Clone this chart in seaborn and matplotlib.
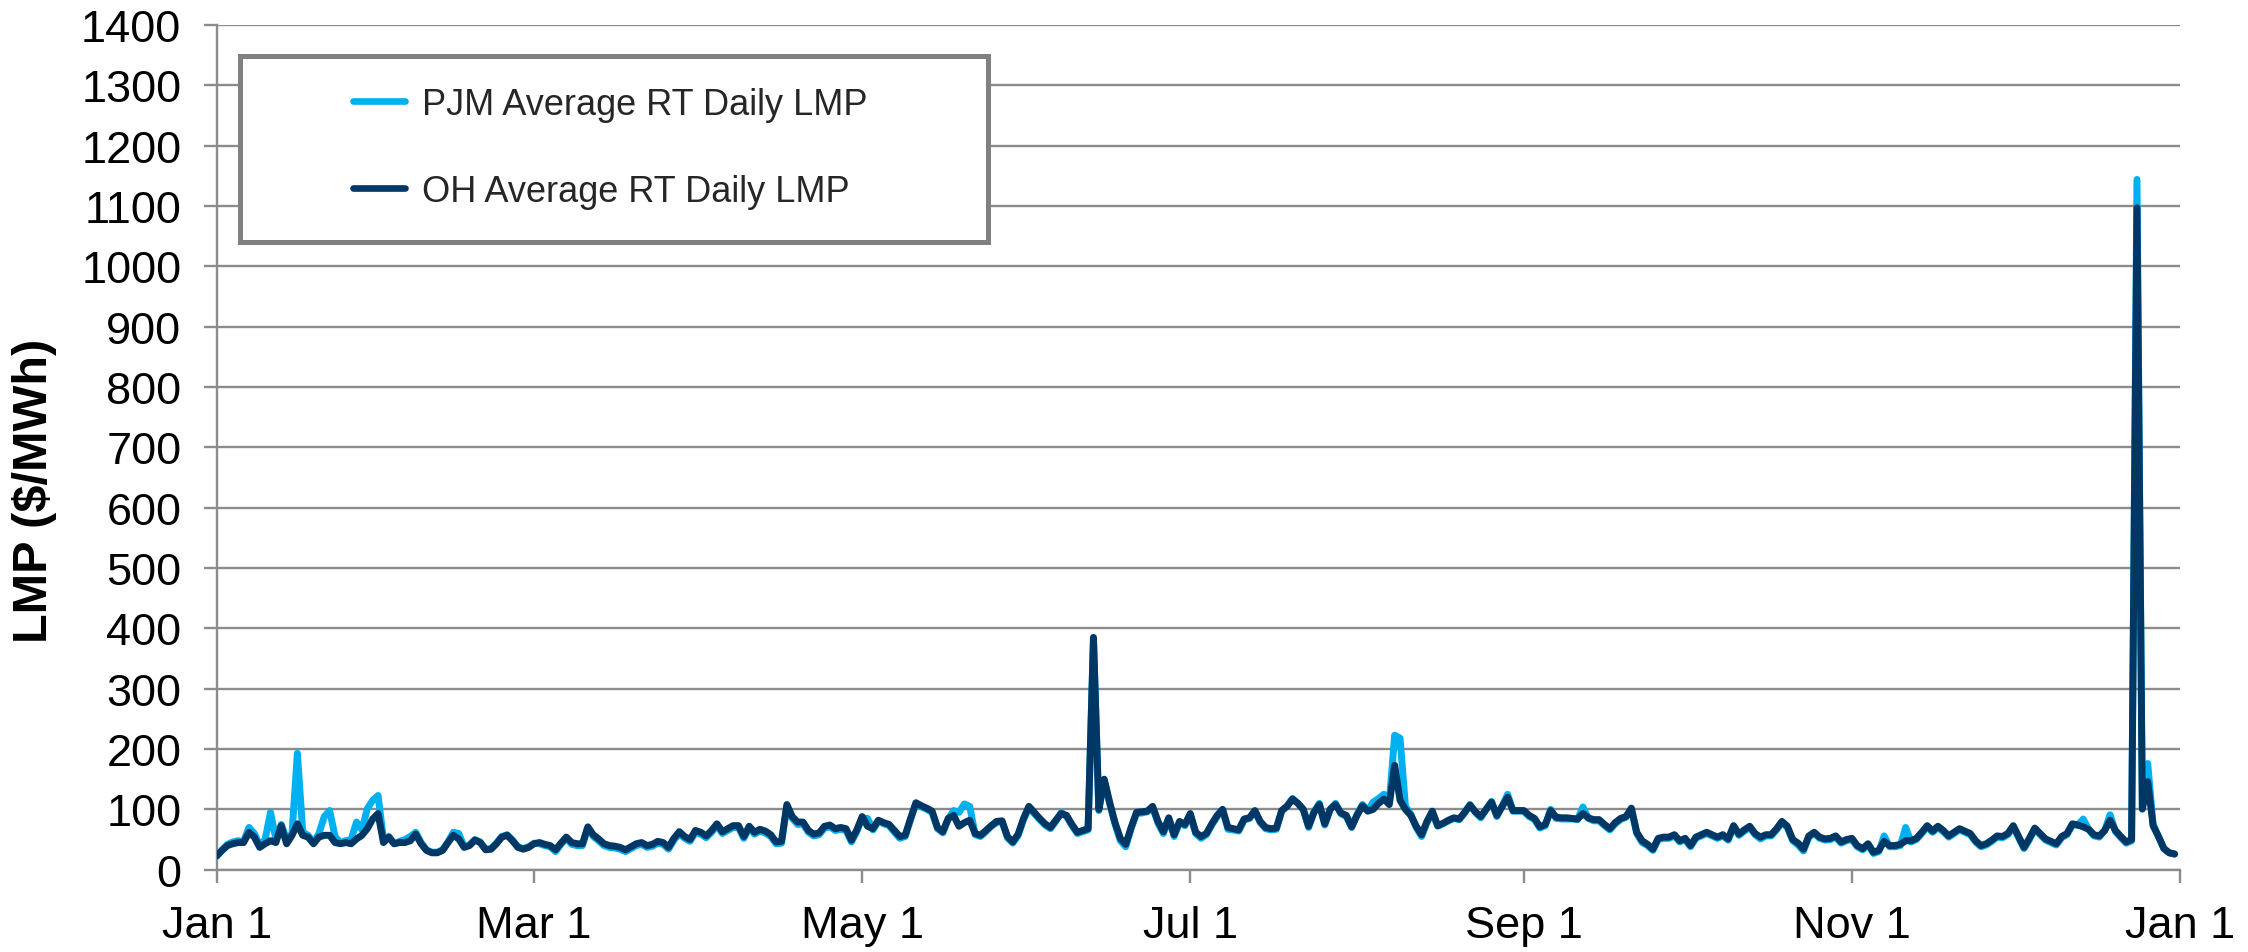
import numpy as np
import pandas as pd
import matplotlib
matplotlib.use("Agg")
import matplotlib.pyplot as plt
from matplotlib.lines import Line2D
from matplotlib.patches import Rectangle
import seaborn as sns

# ---------------- data ----------------
dates = pd.date_range("2022-01-01", "2022-12-31", freq="D")

series_names = ["PJM Average RT Daily LMP", "OH Average RT Daily LMP"]
series_colors = ["#00B0F0", "#003764"]

pjm = [
    22, 33, 42, 46, 48, 47, 70, 60, 40, 50,
    95, 50, 75, 50, 60, 193, 62, 57, 45, 60,
    88, 98, 55, 45, 48, 50, 79, 66, 101, 115,
    123, 50, 55, 43, 47, 50, 55, 62, 45, 33,
    29, 29, 33, 46, 62, 60, 38, 41, 50, 46,
    34, 35, 44, 55, 58, 49, 38, 35, 38, 44,
    43, 40, 38, 30, 42, 52, 42, 40, 40, 70,
    55, 48, 40, 37, 36, 34, 30, 35, 40, 42,
    37, 39, 44, 42, 34, 49, 60, 52, 47, 62,
    59, 53, 62, 73, 60, 65, 70, 70, 52, 69,
    59, 64, 61, 55, 43, 44, 105, 85, 75, 76,
    62, 56, 58, 69, 71, 65, 67, 65, 46, 63,
    85, 85, 66, 80, 76, 73, 62, 52, 55, 83,
    110, 104, 100, 95, 68, 61, 84, 98, 95, 109,
    105, 58, 55, 63, 72, 78, 80, 53, 44, 57,
    83, 103, 93, 83, 74, 68, 80, 95, 88, 73,
    60, 63, 66, 383, 98, 148, 110, 76, 48, 38,
    68, 93, 94, 96, 103, 77, 60, 84, 55, 78,
    73, 91, 60, 52, 58, 74, 88, 99, 67, 66,
    64, 82, 85, 97, 78, 68, 66, 67, 97, 106,
    118, 110, 100, 70, 96, 110, 74, 100, 110, 93,
    88, 70, 92, 108, 98, 112, 118, 125, 112, 223,
    218, 105, 92, 70, 55, 78, 95, 72, 76, 81,
    85, 83, 94, 108, 95, 86, 100, 113, 88, 106,
    125, 97, 97, 97, 88, 83, 69, 73, 100, 85,
    84, 84, 84, 83, 104, 85, 81, 81, 73, 66,
    76, 83, 87, 100, 60, 45, 40, 32, 50, 52,
    52, 56, 46, 50, 38, 52, 56, 60, 56, 52,
    56, 49, 71, 57, 64, 70, 58, 51, 56, 56,
    66, 78, 70, 48, 41, 31, 54, 60, 52, 49,
    50, 54, 44, 48, 50, 38, 33, 41, 27, 30,
    56, 38, 38, 40, 70, 46, 50, 60, 71, 62,
    70, 63, 54, 60, 66, 62, 58, 46, 38, 41,
    47, 54, 53, 58, 71, 53, 35, 50, 67, 58,
    49, 45, 41, 53, 58, 74, 74, 84, 67, 56,
    54, 65, 91, 63, 53, 44, 48, 1144, 100, 176,
    75, 55, 35, 28, 26,
]

oh = [
    23, 32, 40, 43, 45, 45, 62, 54, 37, 43,
    48, 45, 73, 43, 57, 76, 57, 54, 43, 54,
    57, 57, 45, 43, 45, 43, 51, 57, 68, 84,
    93, 45, 54, 43, 45, 45, 48, 59, 43, 32,
    28, 28, 32, 45, 57, 51, 37, 40, 49, 45,
    33, 34, 43, 54, 57, 48, 37, 34, 37, 43,
    45, 42, 40, 33, 44, 54, 45, 43, 43, 71,
    58, 51, 43, 40, 39, 37, 33, 38, 43, 45,
    40, 42, 47, 45, 37, 52, 63, 55, 50, 65,
    62, 56, 65, 76, 63, 68, 73, 73, 55, 72,
    62, 67, 64, 58, 46, 47, 108, 88, 79, 79,
    65, 59, 61, 72, 74, 68, 70, 68, 49, 66,
    88, 72, 68, 82, 78, 75, 65, 55, 57, 85,
    111, 106, 102, 97, 70, 63, 85, 90, 72, 78,
    82, 60, 57, 65, 73, 80, 81, 55, 46, 59,
    85, 105, 95, 85, 76, 70, 82, 93, 90, 75,
    62, 65, 68, 385, 100, 150, 112, 78, 52, 42,
    70, 95, 96, 97, 105, 80, 63, 86, 58, 80,
    75, 93, 62, 55, 60, 76, 90, 100, 70, 68,
    66, 84, 86, 98, 80, 70, 68, 69, 98, 105,
    117, 110, 100, 72, 95, 108, 76, 100, 108, 94,
    90, 71, 90, 106, 97, 100, 110, 117, 108, 173,
    115, 100, 90, 72, 58, 80, 97, 73, 77, 82,
    86, 84, 95, 107, 96, 88, 100, 112, 90, 105,
    120, 98, 98, 98, 90, 85, 71, 75, 98, 87,
    86, 86, 85, 84, 93, 86, 83, 83, 75, 68,
    78, 85, 88, 102, 62, 48, 42, 34, 52, 54,
    54, 58, 48, 52, 40, 54, 58, 62, 58, 54,
    58, 51, 73, 59, 66, 72, 60, 54, 58, 58,
    68, 80, 72, 50, 44, 34, 56, 62, 54, 51,
    52, 56, 46, 50, 52, 40, 35, 43, 29, 32,
    47, 40, 40, 42, 48, 48, 52, 62, 73, 64,
    72, 65, 56, 62, 68, 64, 60, 48, 40, 43,
    49, 56, 55, 60, 73, 55, 37, 52, 69, 60,
    51, 47, 43, 55, 60, 76, 74, 71, 67, 58,
    56, 65, 82, 65, 55, 46, 50, 1097, 101, 146,
    73, 55, 35, 28, 26,
]

y_ticks = list(range(0, 1500, 100))
x_tick_dates = ["2022-01-01", "2022-03-01", "2022-05-01", "2022-07-01",
                "2022-09-01", "2022-11-01", "2023-01-01"]
x_tick_labels = ["Jan 1", "Mar 1", "May 1", "Jul 1", "Sep 1", "Nov 1", "Jan 1"]
y_label = "LMP ($/MWh)"

# ---------------- style ----------------
sns.set_theme(style="white")
plt.rcParams["font.family"] = ["Liberation Sans", "DejaVu Sans"]

GRID = "#8c8c8c"
W, H = 2248, 953
fig = plt.figure(figsize=(W / 100, H / 100), dpi=100)
fig.patch.set_facecolor("white")

ax_l, ax_r, ax_b, ax_t = 216.7, 2180.0, 870.7, 26.0
ax = fig.add_axes([ax_l / W, (H - ax_b) / H, (ax_r - ax_l) / W, (ax_b - ax_t) / H])
ax.set_facecolor("white")

df = pd.DataFrame({
    "date": list(dates) * 2,
    "LMP": pjm + oh,
    "series": [series_names[0]] * len(dates) + [series_names[1]] * len(dates),
})

sns.lineplot(data=df, x="date", y="LMP", hue="series", hue_order=series_names,
             palette=series_colors, linewidth=5.0, ax=ax, legend=False,
             solid_capstyle="round", solid_joinstyle="round", zorder=3)

ax.set_xlim(pd.Timestamp("2022-01-01"), pd.Timestamp("2023-01-01"))
ax.set_ylim(0, 1400)
ax.set_yticks(y_ticks)
ax.set_xticks([pd.Timestamp(d) for d in x_tick_dates])
ax.set_xticklabels(x_tick_labels)

ax.yaxis.grid(True, color=GRID, linewidth=1.7)
ax.xaxis.grid(False)
ax.set_axisbelow(True)

for s in ["top", "right"]:
    ax.spines[s].set_visible(False)
for s in ["left", "bottom"]:
    ax.spines[s].set_color(GRID)
    ax.spines[s].set_linewidth(1.7)

ax.tick_params(axis="both", which="major", direction="out", length=9.5, width=1.7,
               color=GRID, labelcolor="black", pad=16, bottom=True, left=True)
ax.tick_params(axis="x", labelsize=32.5)
ax.tick_params(axis="y", labelsize=32.5)

ax.set_xlabel("")
ax.set_ylabel(y_label, fontsize=35, fontweight="bold", color="black")
ax.yaxis.set_label_coords(-0.093, 0.45)
ax.yaxis.label.set_verticalalignment("center")

# ---------------- legend ----------------
frame = Rectangle((240 / W, (H - 243) / H), 748 / W, 186 / H,
                  transform=fig.transFigure, facecolor="white",
                  edgecolor="#808080", linewidth=3.6, zorder=4, clip_on=False)
ax.add_patch(frame)

handles = [Line2D([0], [0], color=c, linewidth=4.8, solid_capstyle="round")
           for c in series_colors]
leg = ax.legend(handles, series_names, frameon=False, loc="center left",
                bbox_to_anchor=(353 / W, (H - 149) / H),
                bbox_transform=fig.transFigure, borderaxespad=0, borderpad=0,
                fontsize=26, handlelength=1.45, handletextpad=0.45,
                labelspacing=1.44)
leg.set_zorder(5)

fig.savefig("out.png", dpi=100, facecolor="white")
